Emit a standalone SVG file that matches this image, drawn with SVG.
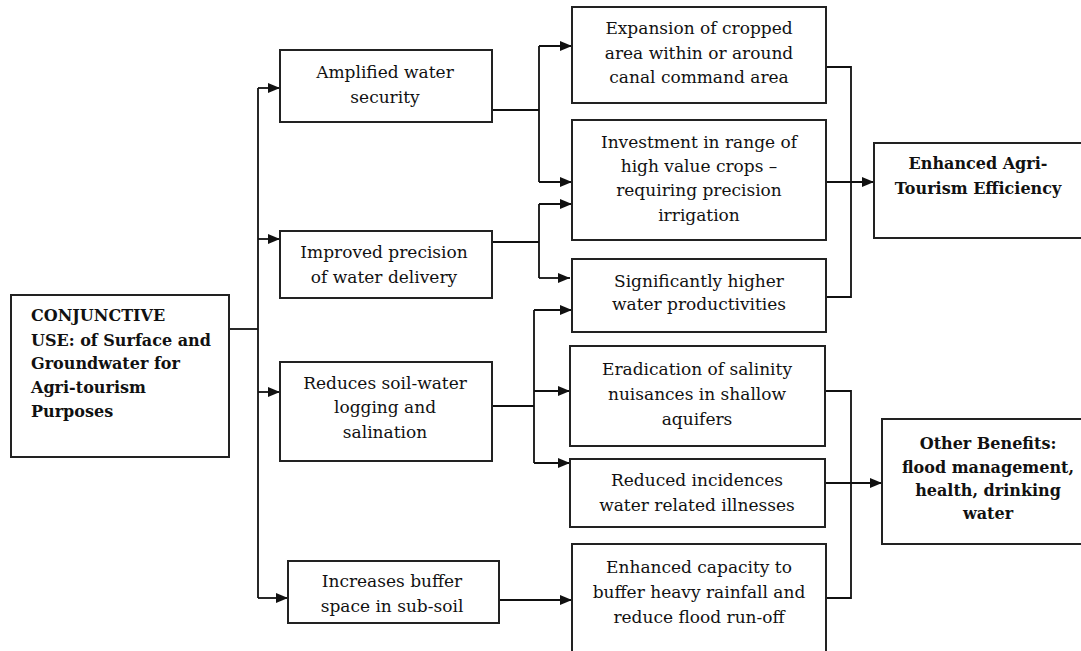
<svg xmlns="http://www.w3.org/2000/svg" width="1081" height="651" viewBox="0 0 1081 651">
<defs>
<style>
.box{fill:#fff;stroke:#222;stroke-width:2}
.t{font-family:"DejaVu Serif","Liberation Serif",serif;font-size:17px;fill:#111;text-anchor:middle}
.b{font-family:"DejaVu Serif","Liberation Serif",serif;font-size:16px;font-weight:bold;fill:#111;text-anchor:middle}
.ln{fill:none;stroke:#111;stroke-width:1.8}
</style>
<marker id="arr" markerWidth="12" markerHeight="10" refX="12" refY="5" orient="auto" markerUnits="userSpaceOnUse"><path d="M0,0 L12,5 L0,10 z" fill="#111"/></marker>
</defs>
<rect width="1081" height="651" fill="#fff"/>
<g id="connectors">
<path class="ln" d="M229,329 H258"/>
<path class="ln" d="M258,88 V598"/>
<path class="ln" d="M258,88 H280" marker-end="url(#arr)"/>
<path class="ln" d="M258,239 H280" marker-end="url(#arr)"/>
<path class="ln" d="M258,392 H280" marker-end="url(#arr)"/>
<path class="ln" d="M258,598 H288" marker-end="url(#arr)"/>
<path class="ln" d="M492,110 H539 M539,46 V182"/>
<path class="ln" d="M539,46 H572" marker-end="url(#arr)"/>
<path class="ln" d="M539,182 H572" marker-end="url(#arr)"/>
<path class="ln" d="M492,242 H539 M539,204 V278"/>
<path class="ln" d="M539,204 H572" marker-end="url(#arr)"/>
<path class="ln" d="M539,278 H570" marker-end="url(#arr)"/>
<path class="ln" d="M487,406 H534 M534,310 V463"/>
<path class="ln" d="M534,310 H572" marker-end="url(#arr)"/>
<path class="ln" d="M534,391 H570" marker-end="url(#arr)"/>
<path class="ln" d="M534,463 H570" marker-end="url(#arr)"/>
<path class="ln" d="M499,600 H572" marker-end="url(#arr)"/>
<path class="ln" d="M823,67 H851 V297 H826"/>
<path class="ln" d="M826,182 H874" marker-end="url(#arr)"/>
<path class="ln" d="M825,391 H851 V598 H826"/>
<path class="ln" d="M825,483 H882" marker-end="url(#arr)"/>
</g>
<g id="conjunctive">
<rect class="box" x="11" y="295" width="218" height="162"/>
<text class="b" style="text-anchor:start" x="31"><tspan x="31" y="321">CONJUNCTIVE</tspan><tspan x="31" y="346">USE: of Surface and</tspan><tspan x="31" y="369">Groundwater for</tspan><tspan x="31" y="393">Agri-tourism</tspan><tspan x="31" y="417">Purposes</tspan></text>
</g>
<g id="amplified">
<rect class="box" x="280" y="50" width="212" height="72"/>
<text class="t"><tspan x="385" y="78">Amplified water</tspan><tspan x="385" y="103">security</tspan></text>
</g>
<g id="improved">
<rect class="box" x="280" y="231" width="212" height="67"/>
<text class="t"><tspan x="384" y="258">Improved precision</tspan><tspan x="384" y="283">of water delivery</tspan></text>
</g>
<g id="reduces">
<rect class="box" x="280" y="362" width="212" height="99"/>
<text class="t"><tspan x="385" y="389">Reduces soil-water</tspan><tspan x="385" y="413">logging and</tspan><tspan x="385" y="438">salination</tspan></text>
</g>
<g id="increases">
<rect class="box" x="288" y="561" width="211" height="62"/>
<text class="t"><tspan x="392" y="587">Increases buffer</tspan><tspan x="392" y="612">space in sub-soil</tspan></text>
</g>
<g id="expansion">
<rect class="box" x="572" y="7" width="254" height="96"/>
<text class="t"><tspan x="699" y="34">Expansion of cropped</tspan><tspan x="699" y="59">area within or around</tspan><tspan x="699" y="83">canal command area</tspan></text>
</g>
<g id="investment">
<rect class="box" x="572" y="120" width="254" height="120"/>
<text class="t"><tspan x="699" y="148">Investment in range of</tspan><tspan x="699" y="172">high value crops –</tspan><tspan x="699" y="196">requiring precision</tspan><tspan x="699" y="221">irrigation</tspan></text>
</g>
<g id="significantly">
<rect class="box" x="572" y="259" width="254" height="73"/>
<text class="t"><tspan x="699" y="287">Significantly higher</tspan><tspan x="699" y="310">water productivities</tspan></text>
</g>
<g id="eradication">
<rect class="box" x="570" y="346" width="255" height="100"/>
<text class="t"><tspan x="697" y="375">Eradication of salinity</tspan><tspan x="697" y="400">nuisances in shallow</tspan><tspan x="697" y="425">aquifers</tspan></text>
</g>
<g id="reduced">
<rect class="box" x="570" y="459" width="255" height="68"/>
<text class="t"><tspan x="697" y="486">Reduced incidences</tspan><tspan x="697" y="511">water related illnesses</tspan></text>
</g>
<g id="capacity">
<rect class="box" x="572" y="544" width="254" height="110"/>
<text class="t"><tspan x="699" y="573">Enhanced capacity to</tspan><tspan x="699" y="598">buffer heavy rainfall and</tspan><tspan x="699" y="623">reduce flood run-off</tspan></text>
</g>
<g id="efficiency">
<rect class="box" x="874" y="143" width="210" height="95"/>
<text class="b"><tspan x="978" y="169">Enhanced Agri-</tspan><tspan x="978" y="194">Tourism Efficiency</tspan></text>
</g>
<g id="other">
<rect class="box" x="882" y="419" width="202" height="125"/>
<text class="b"><tspan x="988" y="449">Other Benefits:</tspan><tspan x="988" y="473">flood management,</tspan><tspan x="988" y="496">health, drinking</tspan><tspan x="988" y="519">water</tspan></text>
</g>
</svg>
